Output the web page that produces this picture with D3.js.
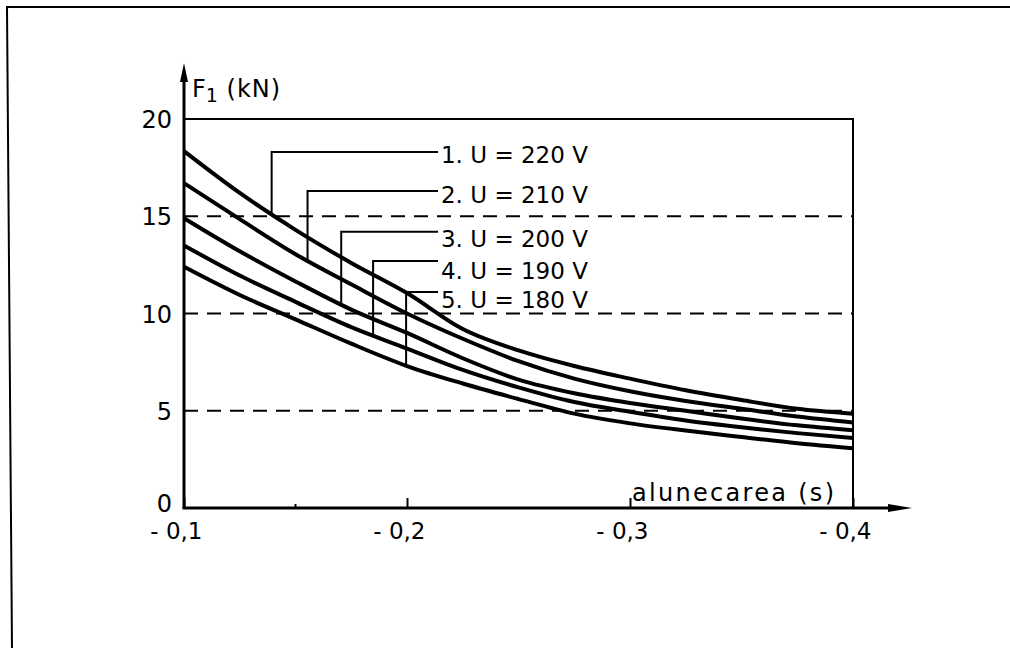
<!DOCTYPE html>
<html>
<head>
<meta charset="utf-8">
<script src="https://cdn.jsdelivr.net/npm/d3@7"></script>
<style>
  html, body { margin: 0; padding: 0; background: #fff; }
  svg { display: block; }
  text { font-family: "DejaVu Sans", sans-serif; fill: #000; }
</style>
</head>
<body>
<svg id="chart" width="1010" height="648"></svg>
<script>
// Slip values (negative, generator-side) and the force curves for each supply voltage
const slip = [-0.1, -0.125, -0.15, -0.175, -0.2, -0.225, -0.25, -0.275, -0.3, -0.325, -0.35, -0.375, -0.4];
const voltages = [220, 210, 200, 190, 180];
const force220 = [18.35, 16.2, 14.3, 12.6, 11.05, 9.2, 8.1, 7.3, 6.65, 6.05, 5.55, 5.1, 4.85];
const force210 = [16.7, 14.85, 13.05, 11.5, 10.0, 8.7, 7.55, 6.65, 6.0, 5.5, 5.1, 4.7, 4.4];
const force200 = [14.9, 13.2, 11.65, 10.2, 9.0, 7.7, 6.6, 5.9, 5.4, 5.0, 4.6, 4.25, 4.0];
const force190 = [13.5, 11.95, 10.6, 9.3, 8.2, 7.1, 6.2, 5.45, 4.95, 4.5, 4.15, 3.85, 3.6];
const force180 = [12.4, 10.95, 9.7, 8.45, 7.3, 6.4, 5.6, 4.85, 4.35, 3.98, 3.65, 3.33, 3.07];
const seriesForce = [force220, force210, force200, force190, force180];

// Axis ticks
const xTicks = [-0.1, -0.2, -0.3, -0.4];
const xMinorTicks = [-0.15];
const yTicks = [0, 5, 10, 15, 20];
const yDashed = [5, 10, 15];

// Callout anchors in data units: slip where each leader meets its curve,
// force level of the leader's horizontal run and of the label baseline
const leaderSlip = [-0.1393, -0.1554, -0.1705, -0.1848, -0.1996];
const leaderLevel = [18.3, 16.3, 14.2, 12.7, 11.1];
const labelBaseline = [17.74, 15.68, 13.42, 11.77, 10.28];
const leaderEndSlip = -0.2139;

const svg = d3.select("#chart");

// Page frame
svg.append("path")
  .attr("d", "M12,648 L7,7 H1010")
  .attr("fill", "none").attr("stroke", "#000").attr("stroke-width", 2);

const x = d3.scaleLinear().domain([-0.1, -0.4]).range([184, 853]);
const y = d3.scaleLinear().domain([0, 20]).range([508, 119]);

// Dashed reference levels
svg.append("g").selectAll("line").data(yDashed).join("line")
  .attr("x1", x(-0.1)).attr("x2", x(-0.4))
  .attr("y1", d => y(d)).attr("y2", d => y(d))
  .attr("stroke", "#000").attr("stroke-width", 2)
  .attr("stroke-dasharray", "14,9");

// Upper and right plot boundaries
svg.append("path")
  .attr("d", `M${x(-0.1)},${y(20)} H${x(-0.4)} V${y(0)}`)
  .attr("fill", "none").attr("stroke", "#000").attr("stroke-width", 2);

// Force curves
const line = d3.line()
  .x((d, i) => x(slip[i]))
  .y(d => y(d))
  .curve(d3.curveMonotoneX);

svg.append("g").selectAll("path").data(seriesForce).join("path")
  .attr("d", d => line(d))
  .attr("fill", "none").attr("stroke", "#000")
  .attr("stroke-width", 4).attr("stroke-linejoin", "round");

// Value of a curve at a given slip (straight-line reading between samples)
function forceAt(values, s) {
  const xs = slip.map(v => -v);
  const i = Math.max(0, Math.min(xs.length - 2, d3.bisectRight(xs, -s) - 1));
  const t = (-s - xs[i]) / (xs[i + 1] - xs[i]);
  return values[i] + t * (values[i + 1] - values[i]);
}

// Callouts
const callouts = svg.append("g");
voltages.forEach((u, i) => {
  const sx = x(leaderSlip[i]);
  const cy = y(forceAt(seriesForce[i], leaderSlip[i]));
  const ly = y(leaderLevel[i]);
  callouts.append("path")
    .attr("d", `M${sx},${cy} V${ly} H${x(leaderEndSlip)}`)
    .attr("fill", "none").attr("stroke", "#000").attr("stroke-width", 2);
  callouts.append("text")
    .attr("x", x(leaderEndSlip) + 3)
    .attr("y", y(labelBaseline[i]))
    .attr("font-size", 23)
    .text(`${i + 1}. U = ${u} V`);
});

// X axis: ticks point inwards, labels written as "- 0,1"
const fmt = d => "- " + d3.format(".1f")(-d).replace(".", ",");
const xAxis = svg.append("g")
  .attr("transform", `translate(0,${y(0)})`)
  .call(d3.axisBottom(x).tickValues(xTicks).tickSize(-10).tickFormat(fmt));
xAxis.select(".domain").remove();
xAxis.selectAll(".tick line").attr("stroke", "#000").attr("stroke-width", 2);
xAxis.selectAll(".tick text")
  .attr("text-anchor", "end").attr("x", 18).attr("y", 31).attr("dy", null)
  .attr("font-size", 23).attr("font-family", "DejaVu Sans").attr("fill", "#000");

svg.append("g").selectAll("line").data(xMinorTicks).join("line")
  .attr("x1", d => x(d)).attr("x2", d => x(d))
  .attr("y1", y(0)).attr("y2", y(0) - 4)
  .attr("stroke", "#000").attr("stroke-width", 2);

// Y axis labels
const yAxis = svg.append("g")
  .attr("transform", `translate(${x(-0.1)},0)`)
  .call(d3.axisLeft(y).tickValues(yTicks).tickSize(0).tickPadding(12).tickFormat(d3.format("d")));
yAxis.select(".domain").remove();
yAxis.selectAll(".tick text")
  .attr("font-size", 24).attr("font-family", "DejaVu Sans").attr("fill", "#000")
  .attr("y", d => (d === 0 ? -4 : 1));

// Axis lines with arrowheads
const x0 = x(-0.1), y0 = y(0);
svg.append("line")
  .attr("x1", x0).attr("y1", y0).attr("x2", x0).attr("y2", 72)
  .attr("stroke", "#000").attr("stroke-width", 3);
svg.append("path")
  .attr("d", `M${x0},63 L${x0 - 4},82 L${x0 + 4},82 Z`).attr("fill", "#000");
svg.append("line")
  .attr("x1", x0 - 1.5).attr("y1", y0).attr("x2", 900).attr("y2", y0)
  .attr("stroke", "#000").attr("stroke-width", 3);
svg.append("path")
  .attr("d", `M912,${y0} L888,${y0 - 4} L888,${y0 + 4} Z`).attr("fill", "#000");

// Axis titles
const yTitle = svg.append("text").attr("x", 192).attr("y", 97).attr("font-size", 24);
yTitle.append("tspan").text("F");
yTitle.append("tspan").attr("dy", 5).attr("font-size", 19).text("1");
yTitle.append("tspan").attr("dy", -5).attr("letter-spacing", 1).text(" (kN)");

svg.append("text")
  .attr("x", 632).attr("y", 501)
  .attr("font-size", 24).attr("letter-spacing", 2.3)
  .text("alunecarea (s)");
</script>
</body>
</html>
